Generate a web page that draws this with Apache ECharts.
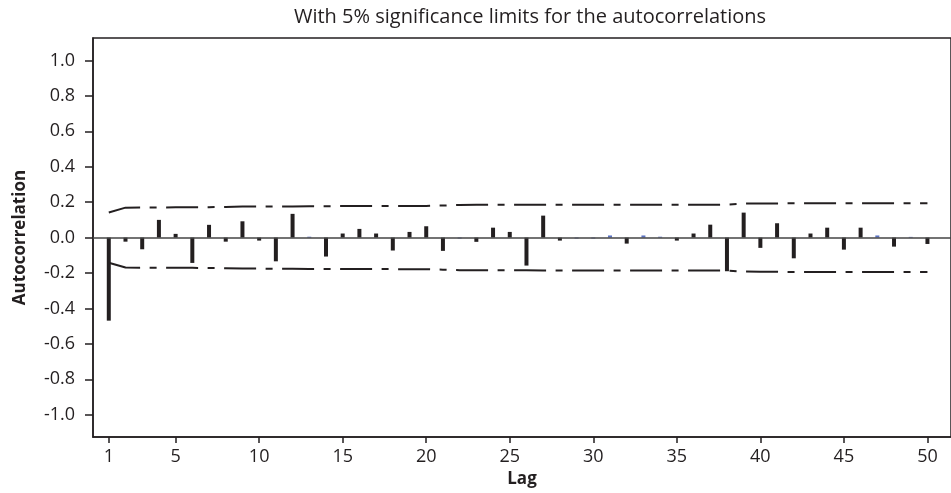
<!DOCTYPE html>
<html lang="en">
<head>
    <meta charset="utf-8">
    <title>Autocorrelation function</title>
    <style>
        html, body { margin: 0; padding: 0; background: #fff; }
        #acf { width: 951px; height: 493px; }
    </style>
</head>
<body>
<div id="acf"></div>
<script src="https://cdn.jsdelivr.net/npm/echarts@6.0.0/dist/echarts.min.js"></script>
<script>
// lags 1..50
var lags = [];
for (var i = 1; i <= 50; i++) lags.push(i);

// autocorrelation at each lag
var acf = [
    -0.469, -0.023, -0.066, 0.100, 0.021, -0.143, 0.072, -0.023, 0.092, -0.017,
    -0.134, 0.134, 0.005, -0.107, 0.023, 0.049, 0.023, -0.073, 0.032, 0.064,
    -0.075, -0.005, -0.024, 0.056, 0.032, -0.158, 0.124, -0.017, -0.005, -0.005,
    0.012, -0.034, 0.012, 0.005, -0.017, 0.023, 0.073, -0.190, 0.141, -0.058,
    0.081, -0.117, 0.023, 0.056, -0.068, 0.056, 0.012, -0.051, 0.004, -0.036
];

// upper 5% significance limit at each lag (lower one is its negative)
var upperLimit = [
    0.142, 0.169, 0.170, 0.170, 0.171, 0.171, 0.172, 0.173, 0.175, 0.175,
    0.176, 0.176, 0.177, 0.177, 0.178, 0.178, 0.178, 0.178, 0.179, 0.179,
    0.181, 0.184, 0.185, 0.185, 0.185, 0.185, 0.186, 0.186, 0.186, 0.186,
    0.186, 0.186, 0.186, 0.186, 0.186, 0.186, 0.186, 0.186, 0.192, 0.193,
    0.193, 0.194, 0.194, 0.194, 0.194, 0.194, 0.194, 0.194, 0.194, 0.194
];

var xTicks = [1, 5, 10, 15, 20, 25, 30, 35, 40, 45, 50];
var yTicks = [-1.0, -0.8, -0.6, -0.4, -0.2, 0.0, 0.2, 0.4, 0.6, 0.8, 1.0];

var ink = '#231f20';
var font = '"Open Sans", "Noto Sans", sans-serif';

var barData = [], upData = [], lowData = [];
for (var k = 0; k < lags.length; k++) {
    barData.push([lags[k], acf[k]]);
    upData.push([lags[k], upperLimit[k]]);
    lowData.push([lags[k], -upperLimit[k]]);
}
var dashDot = [32, 9.5, 7, 9.5];

var chart = echarts.init(document.getElementById('acf'), null, {renderer: 'canvas'});
chart.setOption({
    animation: false,
    backgroundColor: '#fff',
    textStyle: {fontFamily: font, color: ink},
    graphic: [{
        type: 'text',
        x: 530,
        y: 17,
        style: {
            text: 'With 5% significance limits for the autocorrelations',
            font: '20px ' + font,
            fill: ink,
            textAlign: 'center',
            textVerticalAlign: 'middle'
        }
    }],
    grid: {
        left: 93,
        right: -12,
        top: 38,
        bottom: 56,
        show: true,
        borderColor: ink,
        borderWidth: 1.5
    },
    xAxis: {
        type: 'value',
        min: 0.055,
        max: 51.41,
        name: 'Lag',
        nameLocation: 'middle',
        nameGap: 31,
        nameTextStyle: {fontFamily: font, fontWeight: 'bold', fontSize: 17, color: ink},
        axisLine: {show: true, onZero: false, lineStyle: {color: ink, width: 1.5}},
        axisTick: {show: true, length: 6, customValues: xTicks, lineStyle: {color: ink, width: 1.5}},
        axisLabel: {customValues: xTicks, margin: 11, fontSize: 18, color: ink, fontFamily: font},
        splitLine: {show: false}
    },
    yAxis: {
        type: 'value',
        min: -1.126,
        max: 1.127,
        name: 'Autocorrelation',
        nameLocation: 'middle',
        nameGap: 64,
        nameRotate: 90,
        nameTextStyle: {fontFamily: font, fontWeight: 'bold', fontSize: 17, color: ink},
        axisLine: {show: true, onZero: false, lineStyle: {color: ink, width: 1.5}},
        axisTick: {show: true, length: 8, customValues: yTicks, lineStyle: {color: ink, width: 1.5}},
        axisLabel: {
            customValues: yTicks,
            margin: 18,
            fontSize: 18,
            color: ink,
            fontFamily: font,
            formatter: function (v) { return v.toFixed(1); }
        },
        splitLine: {show: false}
    },
    series: [
        {
            name: 'ACF',
            type: 'bar',
            barWidth: 4,
            data: barData,
            itemStyle: {
                color: function (p) {
                    return Math.abs(p.value[1]) < 0.015 ? '#5b72c2' : ink;
                }
            },
            markLine: {
                silent: true,
                symbol: 'none',
                label: {show: false},
                lineStyle: {color: '#444', width: 1.5, type: 'solid'},
                data: [{yAxis: 0}]
            },
            z: 3
        },
        {
            name: 'Upper limit',
            type: 'line',
            data: upData,
            symbol: 'none',
            lineStyle: {color: ink, width: 2, type: dashDot, cap: 'butt'},
            z: 2
        },
        {
            name: 'Lower limit',
            type: 'line',
            data: lowData,
            symbol: 'none',
            lineStyle: {color: ink, width: 2, type: dashDot, cap: 'butt'},
            z: 2
        }
    ]
});
</script>
</body>
</html>
